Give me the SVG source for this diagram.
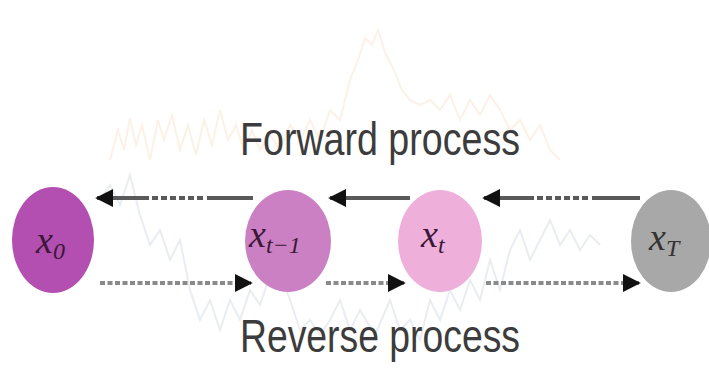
<svg xmlns="http://www.w3.org/2000/svg" width="709" height="381" viewBox="0 0 709 381">
<defs>
<style>
.lbl{font-family:"Liberation Sans",Arial,sans-serif;font-size:46px;fill:#3c3c3c}
.var{font-family:"Liberation Serif","Times New Roman",serif;font-style:italic;font-size:38px;fill:#3b1838}
.sub{font-size:24px}
.fwd{fill:none;stroke:#5a5a5a;stroke-width:4}
.rev{fill:none;stroke:#8a8a8a;stroke-width:4;stroke-dasharray:5 2.5}
.noiseA{fill:none;stroke:#f3c89a;stroke-width:2;opacity:0.25}
.noiseB{fill:none;stroke:#a9b7cc;stroke-width:2;opacity:0.25}
</style>
<marker id="ah" viewBox="0 0 10 10" refX="9" refY="5" markerWidth="4.5" markerHeight="4.5" orient="auto" markerUnits="strokeWidth">
<path d="M0,0 L10,5 L0,10 z" fill="#111"/>
</marker>
</defs>
<rect width="709" height="381" fill="#ffffff"/>
<g id="noise">
<polyline class="noiseA" points="110,160 118,130 124,150 130,118 136,145 142,125 150,160 158,120 164,140 172,115 180,150 188,125 196,155 204,120 212,145 220,110 228,140 236,125 244,150 252,130 260,150 270,135 280,150 290,125 300,140 310,120 320,140 330,110 340,120 350,80 358,60 365,38 372,45 378,30 386,55 394,70 402,90 410,100 420,105 430,100 440,110 450,95 460,120 470,100 480,115 490,95 500,110 510,130 520,120 530,140 540,125 550,150 560,160"/>
<polyline class="noiseB" points="100,200 110,185 120,205 130,175 140,215 150,245 160,230 170,260 180,240 190,290 200,320 210,300 220,330 230,300 240,320 250,290 260,305 275,260 290,300 300,330 310,320 320,335 330,320 340,300 350,330 360,310 375,335 390,300 400,330 410,320 420,340 430,300 440,320 450,290 460,310 470,280 480,300 490,260 500,290 510,250 520,230 530,260 540,240 550,220 560,245 570,230 580,250 590,235 600,245"/>
</g>
<g id="connectors">
<line class="fwd" x1="253" y1="198" x2="97" y2="198" stroke-dasharray="46 4 6 3 6 3 6 3 6 3 6 3 6 3 60" marker-end="url(#ah)"/>
<line class="fwd" x1="410" y1="198" x2="330" y2="198" marker-end="url(#ah)"/>
<line class="fwd" x1="640" y1="198" x2="484" y2="198" stroke-dasharray="48 4 6 3 6 3 6 3 6 3 6 3 6 3 60" marker-end="url(#ah)"/>
<line class="rev" x1="100" y1="283" x2="251" y2="283" marker-end="url(#ah)"/>
<line class="rev" x1="326" y1="283" x2="404" y2="283" marker-end="url(#ah)"/>
<line class="rev" x1="486" y1="283" x2="639" y2="283" marker-end="url(#ah)"/>
</g>
<g id="node-x0">
<ellipse cx="53" cy="240" rx="41" ry="53" fill="#b24fb0"/>
<text class="var" x="36" y="253">x<tspan class="sub" dy="6">0</tspan></text>
</g>
<g id="node-xt-1">
<ellipse cx="288" cy="241" rx="43" ry="51" fill="#cc80c4"/>
<text class="var" x="249" y="247">x<tspan class="sub" dy="6">t−1</tspan></text>
</g>
<g id="node-xt">
<ellipse cx="440" cy="241" rx="42" ry="51" fill="#eeb0da"/>
<text class="var" x="421" y="247">x<tspan class="sub" dy="6">t</tspan></text>
</g>
<g id="node-xT">
<ellipse cx="671" cy="241" rx="40" ry="51" fill="#a8a8a8"/>
<text class="var" x="649" y="250" style="fill:#333">x<tspan class="sub" dy="6">T</tspan></text>
</g>
<g id="labels">
<text class="lbl" x="240" y="155" textLength="280" lengthAdjust="spacingAndGlyphs">Forward process</text>
<text class="lbl" x="240" y="352" textLength="280" lengthAdjust="spacingAndGlyphs">Reverse process</text>
</g>
</svg>
